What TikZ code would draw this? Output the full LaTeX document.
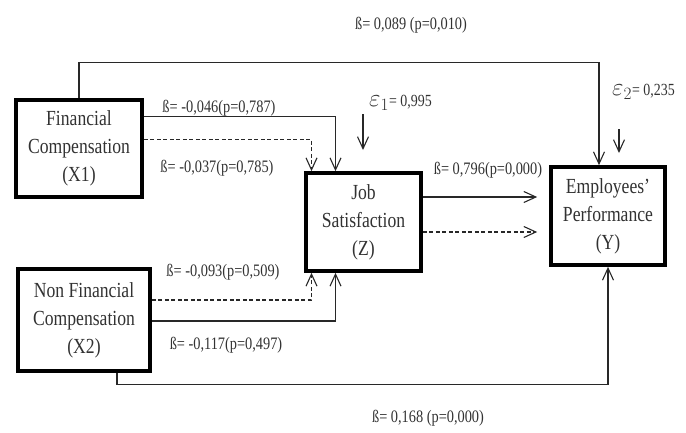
\documentclass[tikz,border=0pt]{standalone}
\usepackage{fontspec}
\setmainfont{Liberation Serif}[FakeStretch=0.82]
\usetikzlibrary{arrows.meta}
\definecolor{LineGray}{RGB}{40,40,40}
\definecolor{TextGray}{RGB}{50,50,50}
\tikzset{
  varbox/.style={draw,line width=3.7pt,align=center,inner sep=0pt,
    font=\fontsize{21.5}{28}\selectfont,text=TextGray},
  conn/.style={-{Straight Barb[length=12pt,width=11pt]},line width=1.1pt,LineGray},
  dashconn/.style={conn,dash pattern=on 4pt off 2.5pt},
  lbl/.style={font=\fontsize{17.5}{20}\selectfont,text=TextGray,inner sep=0pt},
}

\begin{document}
\begin{tikzpicture}[x=1pt,y=-1pt]
  \useasboundingbox (0,0) rectangle (686,432);
  % the four variables
  \node[varbox,minimum width=126pt,minimum height=97pt] (fc) at (79,148.5)
    {Financial\\Compensation\\(X1)};
  \node[varbox,minimum width=132pt,minimum height=102pt] (nfc) at (84,320)
    {Non Financial\\Compensation\\(X2)};
  \node[varbox,minimum width=115pt,minimum height=98pt] (js) at (363.5,222)
    {Job\\Satisfaction\\(Z)};
  \node[varbox,minimum width=114pt,minimum height=98pt] (ep) at (608,216)
    {Employees’\\Performance\\(Y)};
  % paths
  \draw[conn] (fc.north) -- ++(0,-36) -| ([xshift=-9pt]ep.north);
  \draw[conn] ([yshift=32pt]fc.east) -| ([xshift=-28pt]js.north);
  \draw[dashconn] ([yshift=9pt]fc.east) -| ([xshift=-52pt]js.north);
  \draw[dashconn] ([yshift=20pt]nfc.east) -| ([xshift=-52pt]js.south);
  \draw[conn] ([yshift=-1pt]nfc.east) -| ([xshift=-28pt]js.south);
  \draw[conn] ([xshift=33pt]nfc.south) -- ++(0,12) -| (ep.south);
  \draw[conn,shorten >=12pt] ([yshift=25pt]js.east) -- ([yshift=25pt]js.east -| ep.west);
  \draw[dashconn,shorten >=12pt] ([yshift=-10pt]js.east) -- ([yshift=-10pt]js.east -| ep.west);
  % residuals
  \coordinate (e1top) at (363,114);
  \coordinate (e1tip) at (363,150);
  \coordinate (e2top) at (619,129);
  \coordinate (e2tip) at (619,153);
  \draw[conn] (e1top) -- (e1tip);
  \draw[conn] (e2top) -- (e2tip);
  \node[lbl,anchor=west] (e1lbl) at (369,103)
    {\fontsize{25}{25}\selectfont$\varepsilon_{1}$\fontsize{17}{20}\selectfont= 0,995};
  \node[lbl,anchor=west] (e2lbl) at (612,92)
    {\fontsize{25}{25}\selectfont$\varepsilon_{2}$\fontsize{17}{20}\selectfont= 0,235};
  % coefficients
  \node[lbl] (b1) at (411,25) {ß= 0,089 (p=0,010)};
  \node[lbl] (b2) at (219,108) {ß= -0,046(p=0,787)};
  \node[lbl] (b3) at (217,168) {ß= -0,037(p=0,785)};
  \node[lbl] (b4) at (223,272) {ß= -0,093(p=0,509)};
  \node[lbl] (b5) at (226,345) {ß= -0,117(p=0,497)};
  \node[lbl] (b6) at (488,170) {ß= 0,796(p=0,000)};
  \node[lbl] (b7) at (428,418) {ß= 0,168 (p=0,000)};
\end{tikzpicture}
\end{document}
